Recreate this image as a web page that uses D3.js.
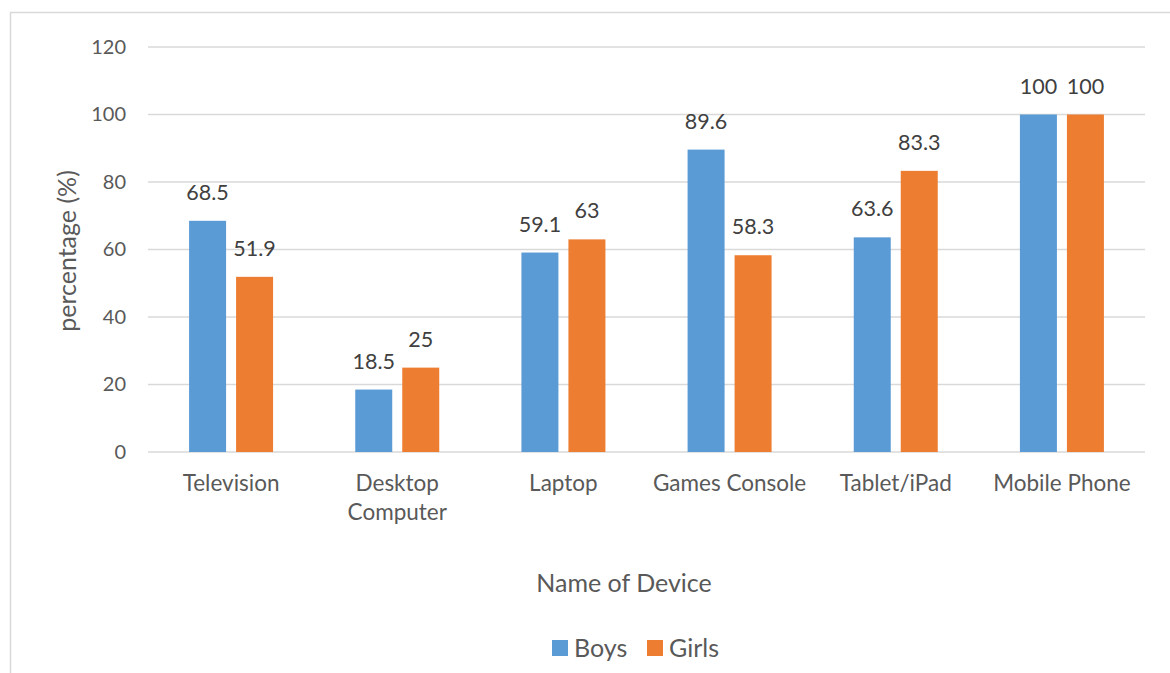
<!DOCTYPE html>
<html>
<head>
<meta charset="utf-8">
<script src="https://cdn.jsdelivr.net/npm/d3@7"></script>
<style>
  html, body { margin: 0; padding: 0; background: #fff; }
  svg { display: block; font-family: Lato, "Open Sans", sans-serif; }
</style>
</head>
<body>
<svg id="chart" width="1170" height="673"></svg>
<script>
// Device ownership by gender
const categories = ["Television", "Desktop Computer", "Laptop", "Games Console", "Tablet/iPad", "Mobile Phone"];
const categoryLines = [["Television"], ["Desktop", "Computer"], ["Laptop"], ["Games Console"], ["Tablet/iPad"], ["Mobile Phone"]];
const seriesNames = ["Boys", "Girls"];
const boys = [68.5, 18.5, 59.1, 89.6, 63.6, 100];
const girls = [51.9, 25, 63, 58.3, 83.3, 100];
const yTicks = [0, 20, 40, 60, 80, 100, 120];

const colors = { Boys: "#5B9BD5", Girls: "#ED7D31" };
const seriesValues = { Boys: boys, Girls: girls };

const svg = d3.select("#chart");
const plot = { left: 148, right: 1145, top: 47, bottom: 452 };

// chart frame
svg.append("rect")
  .attr("x", 10.5).attr("y", 12.5)
  .attr("width", 1180).attr("height", 700)
  .attr("fill", "none").attr("stroke", "#d9d9d9").attr("stroke-width", 1.5);

const x = d3.scaleBand().domain(categories).range([plot.left, plot.right]).padding(0);
const y = d3.scaleLinear().domain([0, 120]).range([plot.bottom, plot.top]);

const barWidth = 37, barGap = 10;
const offsets = { Boys: -barGap / 2 - barWidth, Girls: barGap / 2 };

// gridlines
svg.append("g")
  .selectAll("line").data(yTicks).join("line")
  .attr("x1", plot.left).attr("x2", plot.right)
  .attr("y1", d => y(d)).attr("y2", d => y(d))
  .attr("stroke", "#d9d9d9").attr("stroke-width", 1.3);

// y axis labels
const yAxis = d3.axisLeft(y).tickValues(yTicks).tickSize(0).tickPadding(0);
const yg = svg.append("g").attr("transform", `translate(126,0)`).call(yAxis);
yg.select(".domain").remove();
yg.selectAll("text")
  .attr("font-size", 20).attr("fill", "#595959")
  .attr("font-family", "Lato, 'Open Sans', sans-serif");

// bars and value labels
seriesNames.forEach(name => {
  const vals = seriesValues[name];
  const g = svg.append("g");
  g.selectAll("rect").data(categories).join("rect")
    .attr("x", (c) => x(c) + x.bandwidth() / 2 + offsets[name])
    .attr("y", (c, i) => y(vals[i]))
    .attr("width", barWidth)
    .attr("height", (c, i) => y(0) - y(vals[i]))
    .attr("fill", colors[name]);
  g.selectAll("text").data(categories).join("text")
    .attr("x", (c) => x(c) + x.bandwidth() / 2 + offsets[name] + barWidth / 2)
    .attr("y", (c, i) => y(vals[i]) - 21)
    .attr("text-anchor", "middle")
    .attr("font-size", 21.5).attr("fill", "#404040")
    .text((c, i) => vals[i]);
});

// category labels
const xl = svg.append("g");
categories.forEach((c, i) => {
  const t = xl.append("text")
    .attr("x", x(c) + x.bandwidth() / 2)
    .attr("y", 491)
    .attr("text-anchor", "middle")
    .attr("font-size", 22.5).attr("fill", "#595959");
  categoryLines[i].forEach((line, j) => {
    t.append("tspan").attr("x", x(c) + x.bandwidth() / 2).attr("dy", j === 0 ? 0 : 29).text(line);
  });
});

// axis titles
svg.append("text")
  .attr("transform", "translate(76,251) rotate(-90)")
  .attr("text-anchor", "middle")
  .attr("font-size", 25).attr("fill", "#595959")
  .text("percentage (%)");

svg.append("text")
  .attr("x", 624).attr("y", 592)
  .attr("text-anchor", "middle")
  .attr("font-size", 25).attr("fill", "#595959")
  .text("Name of Device");

// legend
const legendItems = [{ name: "Boys", x: 552 }, { name: "Girls", x: 647 }];
const lg = svg.append("g");
legendItems.forEach(item => {
  lg.append("rect").attr("x", item.x).attr("y", 640).attr("width", 16).attr("height", 16).attr("fill", colors[item.name]);
  lg.append("text").attr("x", item.x + 22).attr("y", 657)
    .attr("font-size", 25).attr("fill", "#595959").text(item.name);
});
</script>
</body>
</html>
